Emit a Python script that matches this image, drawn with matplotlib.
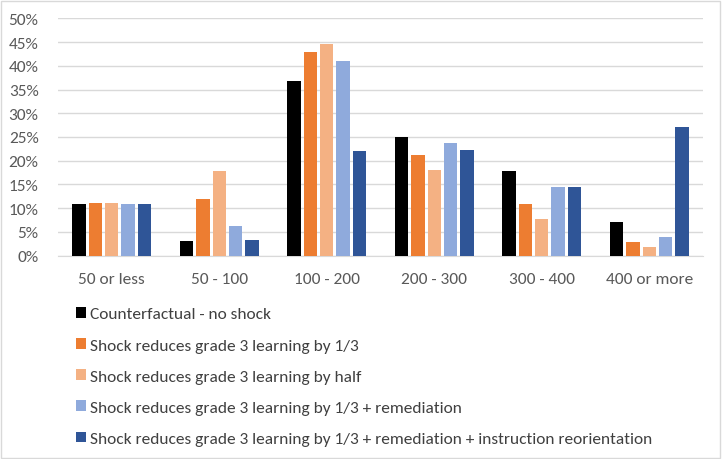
import numpy as np
import matplotlib
matplotlib.use('Agg')
import matplotlib.pyplot as plt
from matplotlib.patches import Rectangle
from matplotlib.ticker import PercentFormatter

categories = ['50 or less', '50 - 100', '100 - 200', '200 - 300', '300 - 400', '400 or more']

labels = ['Counterfactual - no shock',
          'Shock reduces grade 3 learning by 1/3',
          'Shock reduces grade 3 learning by half',
          'Shock reduces grade 3 learning by 1/3 + remediation',
          'Shock reduces grade 3 learning by 1/3 + remediation + instruction reorientation']

counterfactual = [10.9, 3.2, 36.7, 24.9, 17.8, 7.1]
shock_third = [11.0, 12.0, 42.9, 21.3, 10.8, 2.9]
shock_half = [11.0, 17.8, 44.6, 18.0, 7.7, 1.8]
shock_remediation = [10.9, 6.2, 41.0, 23.8, 14.5, 3.9]
shock_reorientation = [10.9, 3.4, 22.0, 22.2, 14.5, 27.2]

series = [counterfactual, shock_third, shock_half, shock_remediation, shock_reorientation]
colors = ['#000000', '#ED7D31', '#F4B183', '#8FAADC', '#2F5597']

plt.rcParams['font.family'] = ['Carlito', 'Source Sans 3', 'DejaVu Sans']
fs = 12.5

fig = plt.figure(figsize=(7.22, 4.6), dpi=100)
ax = fig.add_axes([58 / 722, 203.3 / 460, 645 / 722, 237.4 / 460])

x = np.arange(len(categories))
step = 0.152
width = 0.124
for i in range(len(series)):
    ax.bar(x + (i - 2) * step, series[i], width, color=colors[i], label=labels[i], zorder=3)

ax.set_ylim(0, 50)
ax.set_xlim(-0.5, len(categories) - 0.5)
ax.set_yticks(np.arange(0, 51, 5))
ax.yaxis.set_major_formatter(PercentFormatter(decimals=0))
ax.set_xticks(x)
ax.set_xticklabels(categories)
ax.grid(axis='y', color='#D9D9D9', linewidth=1, zorder=0)
for s in ['top', 'right', 'left']:
    ax.spines[s].set_visible(False)
ax.spines['bottom'].set_color('#D9D9D9')
ax.tick_params(axis='both', length=0, labelsize=fs, colors='#595959')
ax.tick_params(axis='x', pad=12)
ax.tick_params(axis='y', pad=14)

ax.legend(loc='upper left', bbox_to_anchor=(76 / 722, 152 / 460), bbox_transform=fig.transFigure,
          frameon=False, fontsize=fs, handlelength=0.57, handleheight=0.57, handletextpad=0.23,
          labelspacing=0.96, labelcolor='#404040', borderpad=0, borderaxespad=0)

fig.patches.append(Rectangle((0.002, 0.003), 0.995, 0.993, transform=fig.transFigure,
                             fill=False, edgecolor='#D9D9D9', linewidth=1))

fig.savefig('out.png', dpi=100)
